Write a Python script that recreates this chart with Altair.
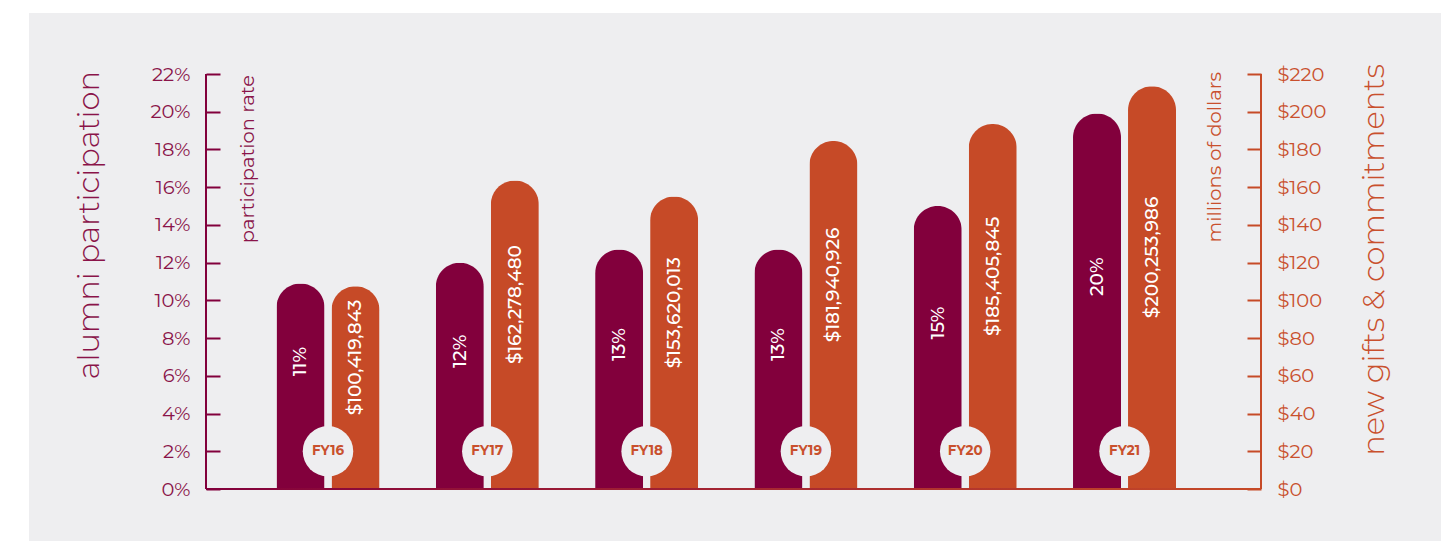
import altair as alt
import pandas as pd

# ---- data ----
years = ["FY16", "FY17", "FY18", "FY19", "FY20", "FY21"]
participation = [10.9, 12.0, 12.7, 12.7, 15.0, 19.9]          # bar heights (%), as drawn
participation_labels = ["11%", "12%", "13%", "13%", "15%", "20%"]
gifts = [107.5, 163.5, 155.0, 184.5, 193.5, 213.5]              # bar heights ($M), as drawn
gifts_labels = ["$100,419,843", "$162,278,480", "$153,620,013",
                "$181,940,926", "$185,405,845", "$200,253,986"]
pct_ticks = [0, 2, 4, 6, 8, 10, 12, 14, 16, 18, 20, 22]
usd_ticks = [0, 20, 40, 60, 80, 100, 120, 140, 160, 180, 200, 220]

# ---- style ----
MAROON = "#82003C"
ORANGE = "#C64A27"
MAROON_TXT = "#8A1449"
ORANGE_TXT = "#C9502D"
PANEL = "#EEEEF0"
FONT = "Montserrat, Inter, sans-serif"
W, H = 1055, 415

rows = []
for y, p, pl in zip(years, participation, participation_labels):
    rows.append({"year": y, "series": "p", "value": p, "label": pl})
for y, g, gl in zip(years, gifts, gifts_labels):
    rows.append({"year": y, "series": "g", "value": g, "label": gl})
df = pd.DataFrame(rows)
dyears = pd.DataFrame({"year": years})
one = pd.DataFrame({"a": [0]})

xscale = alt.Scale(domain=years, paddingInner=0.3534, paddingOuter=0.488, align=0.4534)
xenc = alt.X("year:N", sort=years, axis=None, scale=xscale)
xoff = alt.XOffset("series:N", scale=alt.Scale(domain=["p", "g"], paddingInner=0.1273, paddingOuter=0))
pct_scale = alt.Scale(domain=[0, 22], nice=False, zero=True)
usd_scale = alt.Scale(domain=[0, 220], nice=False, zero=True)

panel = alt.Chart(one).mark_rect(color=PANEL).encode(
    x=alt.value(-177), x2=alt.value(1240), y=alt.value(-61), y2=alt.value(H + 60)
)

pbars = alt.Chart(df).transform_filter("datum.series == 'p'").mark_bar(
    color=MAROON, cornerRadiusTopLeft=24, cornerRadiusTopRight=24
).encode(
    x=xenc, xOffset=xoff,
    y=alt.Y("value:Q", scale=pct_scale, axis=alt.Axis(
        orient="left", values=pct_ticks, labelExpr="datum.value + '%'",
        domain=False, grid=False, ticks=True, tickSize=14, tickWidth=2,
        tickColor=MAROON, offset=-14, labelPadding=16, labelFont=FONT,
        labelFontSize=19.5, labelFontWeight=400, labelColor=MAROON_TXT, title=None,
        zindex=2)),
)

gbars = alt.Chart(df).transform_filter("datum.series == 'g'").mark_bar(
    color=ORANGE, cornerRadiusTopLeft=24, cornerRadiusTopRight=24
).encode(
    x=xenc, xOffset=xoff,
    y=alt.Y("value:Q", scale=usd_scale, axis=alt.Axis(
        orient="right", values=usd_ticks, labelExpr="'$' + datum.value",
        domain=False, grid=False, ticks=True, tickSize=14, tickWidth=2,
        tickColor=ORANGE, offset=-14, labelPadding=16, labelFont=FONT,
        labelFontSize=19.5, labelFontWeight=400, labelColor=ORANGE_TXT, title=None,
        zindex=2)),
)

plabels = alt.Chart(df).transform_filter("datum.series == 'p'").transform_calculate(
    lpos="(datum.value + 2.6) / 2"
).mark_text(angle=270, color="white", font=FONT, fontSize=18.5, fontWeight=500,
            baseline="middle", align="center").encode(
    x=xenc, xOffset=xoff,
    y=alt.Y("lpos:Q", scale=pct_scale, axis=None),
    text="label:N",
)

glabels = alt.Chart(df).transform_filter("datum.series == 'g'").transform_calculate(
    lpos="(datum.value + 32) / 2"
).mark_text(angle=270, color="white", font=FONT, fontSize=18.5, fontWeight=500,
            baseline="middle", align="center").encode(
    x=xenc, xOffset=xoff,
    y=alt.Y("lpos:Q", scale=usd_scale, axis=None),
    text="label:N",
)

baseline = alt.Chart(one).mark_rect(
    fill=alt.Gradient(gradient="linear",
                      stops=[alt.GradientStop(offset=0, color=MAROON),
                             alt.GradientStop(offset=1, color=ORANGE)],
                      x1=0, x2=1, y1=0, y2=0)
).encode(x=alt.value(0), x2=alt.value(W), y=alt.value(H - 1), y2=alt.value(H + 1))

lline = alt.Chart(one).mark_rule(color=MAROON, strokeWidth=2).encode(
    x=alt.value(0), y=alt.value(0), y2=alt.value(H))
rline = alt.Chart(one).mark_rule(color=ORANGE, strokeWidth=2).encode(
    x=alt.value(W), y=alt.value(0), y2=alt.value(H))

circles = alt.Chart(dyears).mark_point(
    filled=True, shape="circle", size=2550, color=PANEL, opacity=1, strokeWidth=0
).encode(x=xenc, y=alt.YDatum(2.0, scale=pct_scale, axis=None))

fy = alt.Chart(dyears).mark_text(
    font=FONT, fontSize=13.5, fontWeight=700, color=ORANGE_TXT, baseline="middle"
).encode(x=xenc, y=alt.YDatum(2.0, scale=pct_scale, axis=None), text="year:N")


def title_text(txt, x, y, size, color, weight):
    return alt.Chart(one).mark_text(
        text=txt, angle=270, align="right", baseline="middle",
        font=FONT, fontSize=size, fontWeight=weight, color=color
    ).encode(x=alt.value(x), y=alt.value(y))


t1 = title_text("alumni participation", -116, -3, 30.5, MAROON_TXT, 300)
t2 = title_text("participation rate", 42, 1, 19.5, MAROON_TXT, 400)
t3 = title_text("millions of dollars", 1009, -2, 19.5, ORANGE_TXT, 400)
t4 = title_text("new gifts & commitments", 1169, -10, 30.5, ORANGE_TXT, 300)

chart = alt.layer(
    panel, pbars, gbars, plabels, glabels, baseline, lline, rline, circles, fy, t1, t2, t3, t4
).resolve_scale(y="independent").properties(
    width=W, height=H,
    autosize=alt.AutoSizeParams(type="none"),
    padding={"left": 198, "top": 66, "right": 180, "bottom": 52},
    background="white",
).configure_view(stroke=None)

chart.save("out.html", embed_options={"renderer": "svg", "actions": False})
